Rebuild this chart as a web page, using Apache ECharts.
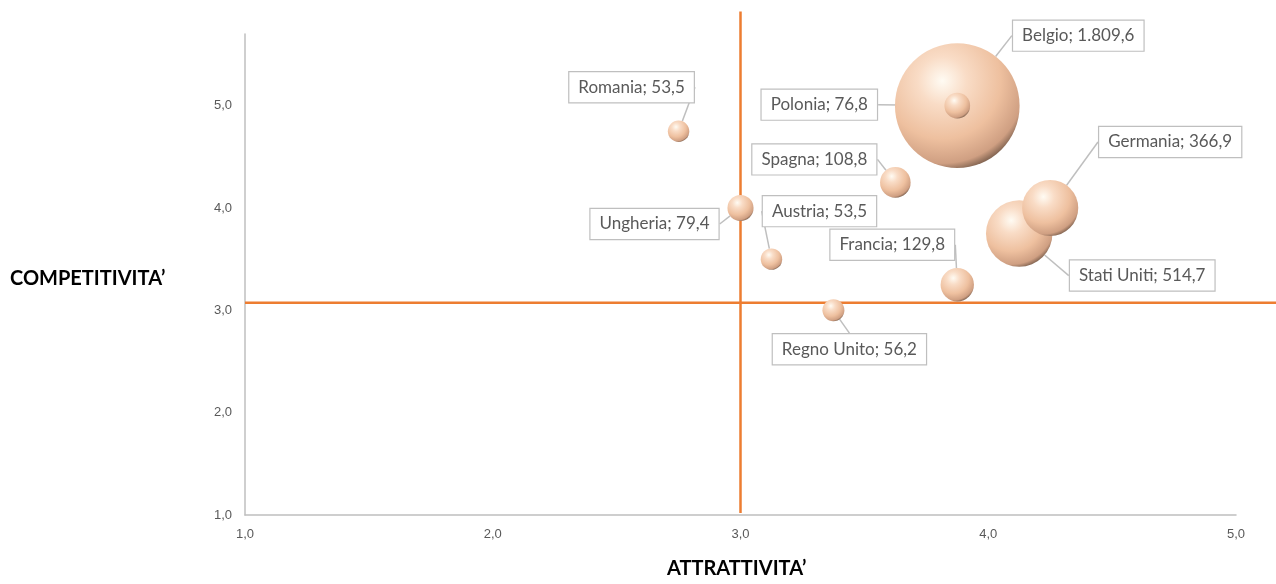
<!DOCTYPE html>
<html>
<head>
<meta charset="utf-8">
<script src="https://cdn.jsdelivr.net/npm/echarts@6/dist/echarts.min.js"></script>
<style>
  html, body { margin: 0; padding: 0; background: #fff; }
  #main { width: 1276px; height: 584px; }
</style>
</head>
<body>
<div id="main"></div>
<script>
// data (bigger bubbles first so the small ones are drawn on top)
var countries = ['Belgio', 'Stati Uniti', 'Germania', 'Francia', 'Spagna', 'Ungheria', 'Polonia', 'Regno Unito', 'Romania', 'Austria']
var attrattivita = [3.875, 4.125, 4.25, 3.875, 3.625, 3.0, 3.875, 3.375, 2.75, 3.125]
var competitivita = [5.0, 3.75, 4.0, 3.25, 4.25, 4.0, 5.0, 3.0, 4.75, 3.5]
var volumi = [1809.6, 514.7, 366.9, 129.8, 108.8, 79.4, 76.8, 56.2, 53.5, 53.5]

var xTicks = [1, 2, 3, 4, 5]
var yTicks = [1, 2, 3, 4, 5]

// quadrant lines (value, and how far they run)
var xCut = 3.0
var yCut = 3.075
var vLineFrom = 1.02, vLineTo = 5.92
var hLineFrom = 1.0, hLineTo = 5.2

// label offsets (px) from bubble center
var labelOffsets = [
  [121, -70], [123, 42], [120, -66], [-65, -40], [-81, -23],
  [-86, 16], [-138, -1], [16, 39], [-47, -44], [48, -48]
]

function fmt(v) {
  var parts = v.toFixed(1).split('.')
  var intPart = parts[0].replace(/\B(?=(\d{3})+(?!\d))/g, '.')
  return intPart + ',' + parts[1]
}

var bubbleData = countries.map(function (c, i) {
  return { name: c, value: [attrattivita[i], competitivita[i], volumi[i]] }
})

var sphere = {
  type: 'radial', x: 0.38, y: 0.3, r: 0.78,
  colorStops: [
    { offset: 0, color: '#fffbf3' },
    { offset: 0.25, color: '#f9dcc6' },
    { offset: 0.6, color: '#eec09f' },
    { offset: 0.85, color: '#cf9f82' },
    { offset: 1, color: '#4e3c30' }
  ]
}

var chart = echarts.init(document.getElementById('main'))
var option = {
  animation: false,
  grid: { left: 245, right: 40, top: 34, bottom: 69 },
  xAxis: {
    type: 'value', min: xTicks[0], max: xTicks[xTicks.length - 1], interval: 1,
    axisLine: { lineStyle: { color: '#bfbfbf', width: 1.5 } },
    axisTick: { show: false },
    splitLine: { show: false },
    axisLabel: { color: '#595959', fontSize: 13, margin: 13, formatter: function (v) { return fmt(v) } }
  },
  yAxis: {
    type: 'value', min: yTicks[0], max: 5.7, interval: 1,
    axisLine: { show: true, lineStyle: { color: '#bfbfbf', width: 1.5 } },
    axisTick: { show: false },
    splitLine: { show: false },
    axisLabel: { color: '#595959', fontSize: 13, margin: 13, showMaxLabel: false, formatter: function (v) { return fmt(v) } }
  },
  graphic: [
    { type: 'text', left: 10, top: 269, style: { text: 'COMPETITIVITA\u2019', font: 'bold 20px Lato', fill: '#000' } },
    { type: 'text', left: 667, top: 559, style: { text: 'ATTRATTIVITA\u2019', font: 'bold 20px Lato', fill: '#000' } }
  ],
  series: [
    {
      type: 'scatter', z: 3,
      data: bubbleData,
      symbolSize: function (val) { return 2.93 * Math.sqrt(val[2]) },
      itemStyle: { color: sphere, opacity: 1 },
      label: {
        show: true, position: 'inside',
        formatter: function (p) { return p.name + '; ' + fmt(p.value[2]) },
        color: '#595959', fontSize: 17, fontFamily: 'Lato', lineHeight: 20,
        backgroundColor: '#fff', borderColor: '#bfbfbf', borderWidth: 1.2,
        padding: [5, 9]
      },
      labelLine: { show: true, lineStyle: { color: '#bfbfbf', width: 1.5 } },
      labelLayout: function (p) {
        var o = labelOffsets[p.dataIndex]
        return { dx: o[0], dy: o[1] }
      }
    }
  ]
}
chart.setOption(option)

// quadrant lines, placed through the chart's own scales
var ref = { xAxisIndex: 0, yAxisIndex: 0 }
var v0 = chart.convertToPixel(ref, [xCut, vLineFrom])
var v1 = chart.convertToPixel(ref, [xCut, vLineTo])
var h0 = chart.convertToPixel(ref, [hLineFrom, yCut])
var h1 = chart.convertToPixel(ref, [hLineTo, yCut])
var orange = { stroke: '#ed7d31', lineWidth: 2.5 }
chart.setOption({
  graphic: [
    { type: 'text', left: 10, top: 269, style: { text: 'COMPETITIVITA\u2019', font: 'bold 20px Lato', fill: '#000' } },
    { type: 'text', left: 667, top: 559, style: { text: 'ATTRATTIVITA\u2019', font: 'bold 20px Lato', fill: '#000' } },
    { type: 'line', z: 1, silent: true, shape: { x1: v0[0], y1: v0[1], x2: v1[0], y2: v1[1] }, style: orange },
    { type: 'line', z: 1, silent: true, shape: { x1: h0[0], y1: h0[1], x2: h1[0], y2: h1[1] }, style: orange }
  ]
})
</script>
</body>
</html>
